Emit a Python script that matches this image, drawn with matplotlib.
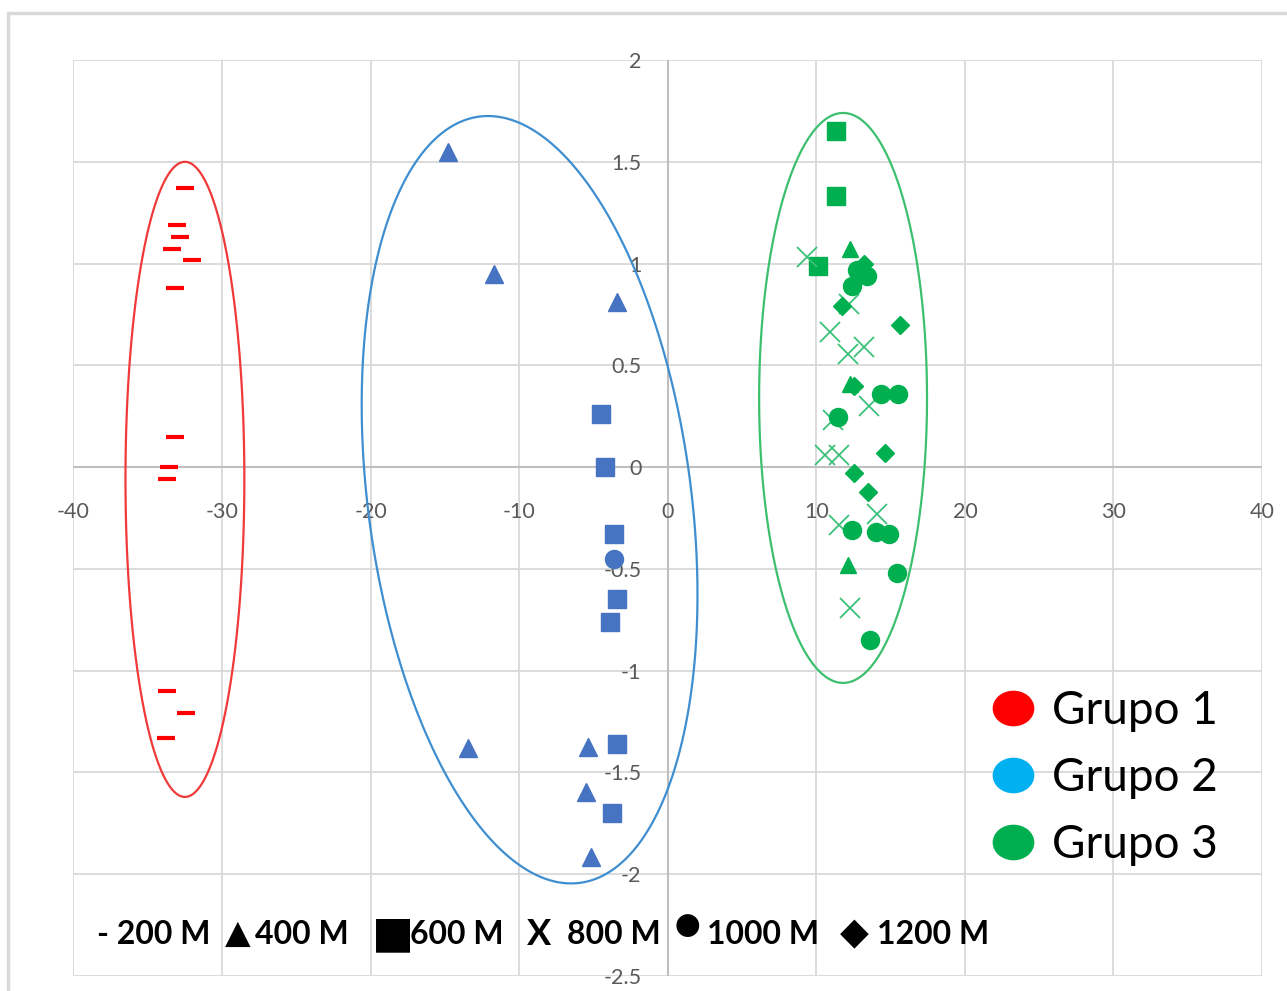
import numpy as np
import matplotlib.pyplot as plt
from matplotlib.lines import Line2D
from matplotlib.patches import Rectangle, Polygon
from matplotlib.path import Path
from matplotlib.transforms import Affine2D

plt.rcParams["axes.unicode_minus"] = False
plt.rcParams["font.family"] = ["Lato", "DejaVu Sans"]

# Grupo 1 (200 M)
g1_dash_x = [-32.5, -33.0, -32.8, -33.4, -32.0, -33.2, -33.2, -33.6, -33.7, -33.7, -32.4, -33.8]
g1_dash_y = [1.37, 1.19, 1.13, 1.07, 1.02, 0.88, 0.15, 0.0, -0.06, -1.10, -1.21, -1.33]

# Grupo 2
g2_tri_x = [-14.8, -11.7, -3.4, -13.45, -5.4, -5.5, -5.2]
g2_tri_y = [1.55, 0.95, 0.81, -1.38, -1.375, -1.595, -1.915]
g2_sq_x = [-4.5, -4.2, -3.6, -3.4, -3.9, -3.4, -3.75]
g2_sq_y = [0.26, 0.0, -0.33, -0.65, -0.76, -1.36, -1.70]
g2_circ_x = [-3.6]
g2_circ_y = [-0.45]

# Grupo 3
g3_sq_x = [11.3, 11.3, 10.1]
g3_sq_y = [1.65, 1.33, 0.99]
g3_tri_x = [12.25, 12.3, 12.1]
g3_tri_y = [1.07, 0.41, -0.48]
g3_x_x = [9.4, 12.2, 10.9, 12.15, 13.2, 13.55, 11.1, 10.6, 11.5, 14.1, 11.5, 12.25]
g3_x_y = [1.03, 0.80, 0.665, 0.555, 0.59, 0.30, 0.23, 0.06, 0.06, -0.23, -0.285, -0.69]
g3_circ_x = [13.4, 12.75, 12.4, 14.35, 15.5, 11.45, 12.4, 14.0, 14.9, 15.4, 13.6]
g3_circ_y = [0.94, 0.97, 0.89, 0.36, 0.36, 0.245, -0.31, -0.32, -0.33, -0.52, -0.85]
g3_diam_x = [13.2, 11.75, 15.65, 12.55, 14.6, 12.55, 13.45]
g3_diam_y = [1.0, 0.79, 0.70, 0.40, 0.07, -0.03, -0.12]

# group ellipses: centre, half width, half height, tilt phase
ell_cx = [-32.5, -9.3, 11.8]
ell_cy = [-0.06, -0.16, 0.34]
ell_w = [4.0, 11.3, 5.65]
ell_h = [1.56, 1.885, 1.40]
ell_phi = [0.0, -0.25, 0.0]
ell_colors = ["#F03A3A", "#3E8ED0", "#3CC06E"]

group_labels = ["Grupo 1", "Grupo 2", "Grupo 3"]
group_colors = ["#FF0000", "#00B0F0", "#00B050"]

size_symbols = ["\u25B2", "\u25A0", "X", "\u25CF", "\u25C6"]
size_labels = ["- 200 M", "400 M", "600 M", "800 M", "1000 M", "1200 M"]

x_ticks = np.arange(-40, 41, 10)
y_ticks = np.arange(-2.5, 2.01, 0.5)

blue = "#4674C2"
green = "#00B050"

fig = plt.figure(figsize=(12.87, 9.91), dpi=100)
ax = fig.add_axes([0.0571, 0.0151, 0.9235, 0.9243])
ax.set_xlim(-40, 40)
ax.set_ylim(-2.5, 2)

# grid and zero axes below the markers
for v in x_ticks:
    ax.axvline(v, color="#D9D9D9", lw=1.3, zorder=0)
for v in y_ticks:
    ax.axhline(v, color="#D9D9D9", lw=1.3, zorder=0)
ax.axhline(0, color="#BFBFBF", lw=1.5, zorder=0.5)
ax.axvline(0, color="#BFBFBF", lw=1.5, zorder=0.5)

for s in ["top", "right"]:
    ax.spines[s].set_visible(False)
ax.spines["left"].set_position(("data", 0))
ax.spines["bottom"].set_position(("data", 0))
ax.spines["left"].set_color("none")
ax.spines["bottom"].set_color("none")

ax.set_xticks(x_ticks)
ax.set_xticklabels([f"{v:g}" for v in x_ticks])
ax.set_yticks(y_ticks)
ax.set_yticklabels([f"{v:g}" for v in y_ticks])
ax.tick_params(axis="x", length=0, pad=25, labelsize=15.5, labelcolor="#595959")
ax.tick_params(axis="y", length=0, pad=19, labelsize=15.5, labelcolor="#595959")

# markers
ax.plot(g1_dash_x, g1_dash_y, ls="", marker="_", ms=13, mew=3, color="#FF0000", zorder=2)
ax.plot(g2_tri_x, g2_tri_y, ls="", marker="^", ms=13, color=blue, zorder=2)
ax.plot(g2_sq_x, g2_sq_y, ls="", marker="s", ms=13, color=blue, zorder=2)
ax.plot(g2_circ_x, g2_circ_y, ls="", marker="o", ms=13, color=blue, zorder=2)
ax.plot(g3_sq_x, g3_sq_y, ls="", marker="s", ms=13, color=green, zorder=2)
ax.plot(g3_tri_x, g3_tri_y, ls="", marker="^", ms=12, color=green, zorder=2)
ax.plot(g3_x_x, g3_x_y, ls="", marker="x", ms=14, mew=1.3, color="#3CC07A", zorder=2)
ax.plot(g3_circ_x, g3_circ_y, ls="", marker="o", ms=13, color=green, zorder=2)
ax.plot(g3_diam_x, g3_diam_y, ls="", marker="D", ms=9.5, color=green, zorder=2)

t = np.linspace(0, 2 * np.pi, 400, endpoint=False)
for cx, cy, w, h, phi, c in zip(ell_cx, ell_cy, ell_w, ell_h, ell_phi, ell_colors):
    pts = np.column_stack([cx + w * np.cos(t), cy + h * np.sin(t + phi)])
    ax.add_patch(Polygon(pts, closed=True, fill=False, edgecolor=c, lw=1.6, zorder=3))

# marker size legend at the bottom
label_x = [0.0198, 0.1527, 0.2831, 0.4152, 0.5330, 0.6760]
for xp, lab in zip(label_x, size_labels):
    ax.text(xp, 0.045, lab, transform=ax.transAxes, fontsize=23, fontweight="bold",
            color="black", ha="left", va="center", zorder=4)
sym_x = [0.1275, 0.2511, 0.3816, 0.5050, 0.6449]
sym_y = [0.047, 0.047, 0.045, 0.054, 0.047]
sym_size = [24, 32, 26, 33, 27]
for xp, yp, sz, sym in zip(sym_x, sym_y, sym_size, size_symbols):
    ax.text(xp, yp, sym, transform=ax.transAxes, fontsize=sz, fontweight="bold",
            color="black", ha="left", va="center", zorder=4)

# group legend
oval = Affine2D().scale(1, 0.85).transform_path(Path.unit_circle())
handles = [Line2D([], [], ls="", marker=oval, ms=29, color=c) for c in group_colors]
ax.legend(handles, group_labels, loc="center left", bbox_to_anchor=(0.7724, 0.216),
          frameon=False, fontsize=33, handlelength=0.95, handletextpad=0.38,
          labelspacing=0.55, borderpad=0, borderaxespad=0)

# outer chart frame
fig.patches.append(Rectangle((8 / 1287, -0.1), 1.2, 1.1 - 13 / 991, transform=fig.transFigure,
                             fill=False, edgecolor="#D9D9D9", lw=2.5))

fig.savefig("out.png", dpi=100)
